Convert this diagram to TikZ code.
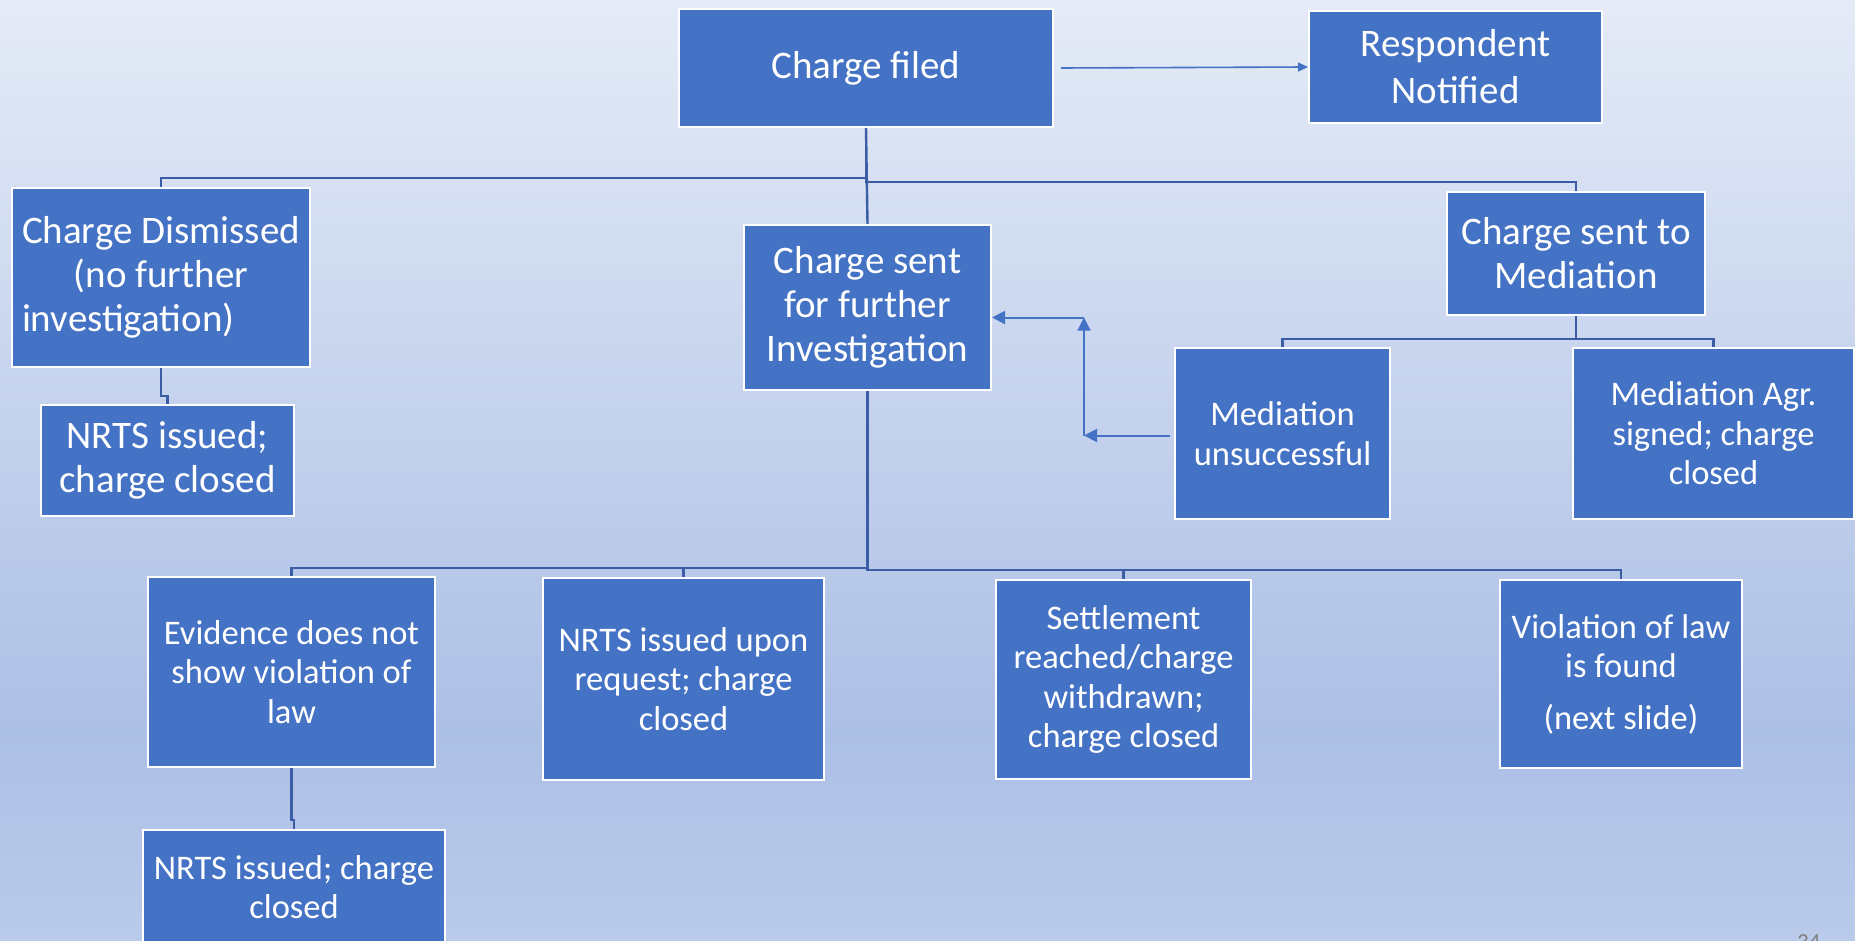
\documentclass[tikz,border=0pt]{standalone}
\usepackage{fontspec}
\setmainfont{Carlito}
\usepackage{calc}
\usetikzlibrary{arrows.meta,calc}

\definecolor{boxblue}{HTML}{4472C4}
\definecolor{linkblue}{HTML}{3A5DA6}
\definecolor{bgtop}{RGB}{229,235,247}
\definecolor{bgmid}{RGB}{172,191,229}
\definecolor{bgbot}{RGB}{186,202,234}
\pgfdeclareverticalshading{slidebg}{100bp}{color(0bp)=(bgbot); color(25bp)=(bgbot); color(36bp)=(bgmid); color(75bp)=(bgtop); color(100bp)=(bgtop)}

\tikzset{
  stage/.style={draw=white, line width=2pt, fill=boxblue, text=white, align=center, inner sep=0pt, anchor=north west},
  big/.style={font=\fontsize{39}{44}\selectfont},
  small/.style={font=\fontsize{34.5}{39.5}\selectfont},
  conn/.style={draw=linkblue, line width=2.4pt},
  arr/.style={draw=boxblue, line width=2pt, -{Triangle[length=13pt,width=13pt]}},
}

\begin{document}
\begin{tikzpicture}[x=1pt, y=-1pt]
    \useasboundingbox (0,0) rectangle (1855,941);
    \shade[shading=slidebg] (0,0) rectangle (1855,941);

    % top row
    \node[stage, big, minimum width=374pt, minimum height=118pt] (filed) at (678,8) {Charge filed};
    \node[stage, font=\fontsize{39}{47}\selectfont, minimum width=293pt, minimum height=112pt] (notified) at (1308,10) {Respondent\\Notified};

    % second row
    \node[stage, big, minimum width=298pt, minimum height=179pt] (dismissed) at (11,187)
    {Charge Dismissed\\(no further\\\makebox[\widthof{Charge Dismissed}][l]{investigation)}};
    \node[stage, big, minimum width=247pt, minimum height=165pt] (invest) at (743,224)
    {Charge sent\\for further\\Investigation};
    \node[stage, big, minimum width=258pt, minimum height=123pt] (mediation) at (1446,191)
    {Charge sent to\\Mediation};

    % below dismissed and mediation
    \node[stage, big, minimum width=253pt, minimum height=111pt] (nrts_a) at (40,404)
    {NRTS issued;\\charge closed};
    \node[stage, small, minimum width=215pt, minimum height=171pt] (unsucc) at (1174,347)
    {Mediation\\unsuccessful};
    \node[stage, small, minimum width=281pt, minimum height=171pt] (agreement) at (1572,347)
    {Mediation Agr.\\signed; charge\\closed};

    % investigation outcomes
    \node[stage, small, minimum width=287pt, minimum height=190pt] (no_violation) at (147,576)
    {Evidence does not\\show violation of\\law};
    \node[stage, small, minimum width=281pt, minimum height=202pt] (nrts_req) at (542,577)
    {NRTS issued upon\\request; charge\\closed};
    \node[stage, small, minimum width=255pt, minimum height=199pt] (settled) at (995,579)
    {Settlement\\reached/charge\\withdrawn;\\charge closed};
    \node[stage, small, minimum width=242pt, minimum height=188pt] (violation) at (1499,579)
    {Violation of law\\is found\\[12pt](next slide)};
    \node[stage, small, minimum width=302pt, minimum height=114pt] (nrts_b) at (142,829)
    {NRTS issued; charge\\closed};

    % page number
    \node[anchor=north west, inner sep=0pt, text=gray, font=\fontsize{23}{28}\selectfont] (pagenum) at (1797,934) {34};

    % connectors
    \draw[arr, line width=1.6pt, -{Triangle[length=10pt,width=9pt]}] ($(filed.east)+(7,0)$) -- (notified.west);
    \draw[conn] (filed.south) -- (invest.north);
    \draw[conn] (filed.south) -- ++(0,50) -| (dismissed.north);
    \draw[conn] (filed.south) -- ++(0,54) -| (mediation.north);
    \draw[conn] (dismissed.south) -- ++(0,28) -| (nrts_a.north);
    \draw[conn] (mediation.south) -- ++(0,23) -| (unsucc.north);
    \draw[conn] (mediation.south) -- ++(0,23) -| (agreement.north);
    \draw[conn] (invest.south) -- ++(0,177) -| (no_violation.north);
    \draw[conn] (invest.south) -- ++(0,177) -| (nrts_req.north);
    \draw[conn] (invest.south) -- ++(0,179) -| (settled.north);
    \draw[conn] (invest.south) -- ++(0,179) -| (violation.north);
    \draw[conn] (no_violation.south) -- ++(0,52) -| (nrts_b.north);

    % back to investigation
    \draw[arr] ($(unsucc.west)+(-4,2)$) -- ++(-86,0) coordinate (back_low);
    \draw[arr, line width=1.2pt] (back_low) -- ++(0,-118) coordinate (back_top);
    \draw[arr] (back_top) -- (invest.east |- back_top);
\end{tikzpicture}
\end{document}
